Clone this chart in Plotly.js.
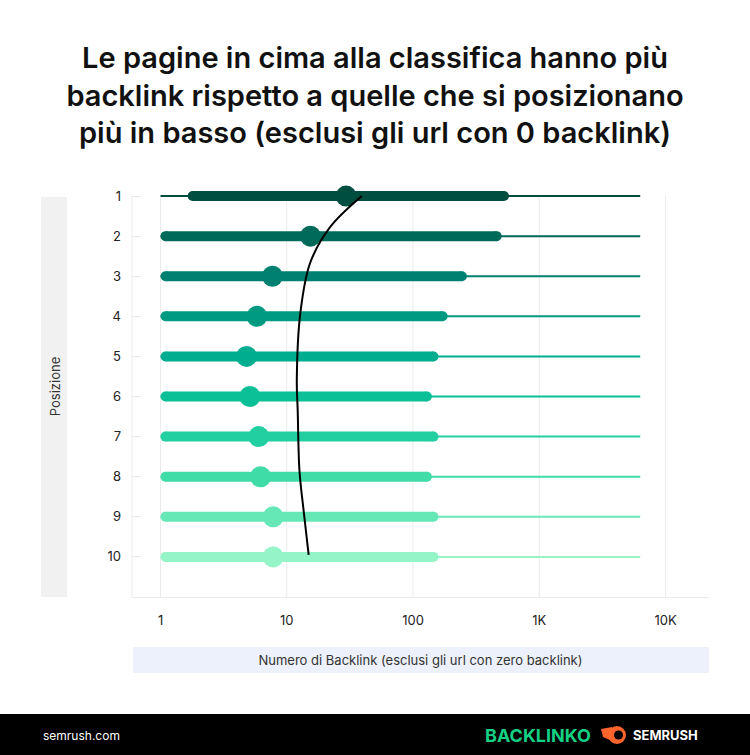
<!DOCTYPE html>
<html>
<head>
<meta charset="utf-8">
<script src="https://cdn.plot.ly/plotly-3.0.1.min.js"></script>
<style>
  html, body { margin: 0; padding: 0; background: #ffffff; }
  #chart { width: 750px; height: 755px; }
</style>
</head>
<body>
<div id="chart"></div>
<script>
// ---- Data ----
const positions = [1, 2, 3, 4, 5, 6, 7, 8, 9, 10];
const positionLabels = ["1", "2", "3", "4", "5", "6", "7", "8", "9", "10"];
const minBacklinks = [1, 1, 1, 1, 1, 1, 1, 1, 1, 1];
const maxBacklinks = [6300, 6300, 6300, 6300, 6300, 6300, 6300, 6300, 6300, 6300];
const q1Backlinks = [1.64, 1, 1, 1, 1, 1, 1, 1, 1, 1];
const q3Backlinks = [575, 503, 267, 188, 159, 141, 159, 141, 159, 159];
const medianBacklinks = [29.5, 15.4, 7.7, 5.8, 4.8, 5.1, 6.0, 6.2, 7.8, 7.8];
const trendBacklinks = [39.3, 22.1, 15.3, 12.8, 12.0, 12.2, 12.6, 13.6, 14.9];
const trendPositions = [1.0, 1.77, 2.67, 3.92, 5.6, 6.35, 7.85, 8.85, 9.95];
const xTickVals = [1, 10, 100, 1000, 10000];
const xTickText = ["1", "10", "100", "1K", "10K"];

// ---- Styles ----
const rowColors = ["#004e40", "#006a5a", "#008070", "#009a80", "#00ad8e",
                   "#0bbf96", "#22cfa0", "#40dca8", "#66e8b6", "#95f4c8"];
const FONT = "Inter, 'Noto Sans', sans-serif";
const GRID = "#ebebeb";

const W = 750, H = 755;
const M = { l: 132, r: 41, t: 176, b: 158 };
const PW = W - M.l - M.r, PH = H - M.t - M.b;
const px = v => (v - M.l) / PW;          // pixel x -> paper x
const py = v => (H - M.b - v) / PH;      // pixel y -> paper y
const yTop = positions[0], yBottom = positions[positions.length - 1] + 1;
const xRange = [-0.226, 4.344];
const BAR_W = 10;
// factor that moves a round bar cap inward by half the bar width (log axis)
const capFactor = Math.pow(10, (BAR_W / 2) * (xRange[1] - xRange[0]) / PW);

const traces = [];
positions.forEach((p, i) => {
  const c = rowColors[i];
  traces.push({
    type: "scatter", mode: "lines", x: [minBacklinks[i], maxBacklinks[i]], y: [p, p],
    line: { color: c, width: 2 }, hoverinfo: "skip", showlegend: false, cliponaxis: false
  });
  traces.push({
    type: "scatter", mode: "lines+markers",
    x: [q1Backlinks[i] * capFactor, q3Backlinks[i] / capFactor], y: [p, p],
    line: { color: c, width: BAR_W }, marker: { color: c, size: BAR_W, line: { width: 0 } },
    hoverinfo: "skip", showlegend: false, cliponaxis: false
  });
  traces.push({
    type: "scatter", mode: "markers", x: [medianBacklinks[i]], y: [p],
    marker: { color: c, size: 21, line: { width: 0 } },
    showlegend: false, cliponaxis: false
  });
});
traces.push({
  type: "scatter", mode: "lines", x: trendBacklinks, y: trendPositions,
  line: { color: "#000000", width: 2, shape: "spline", smoothing: 1.0 },
  showlegend: false, cliponaxis: false, hoverinfo: "skip"
});

const shapes = [];
// vertical grid lines spanning only the rows
xTickVals.forEach(v => shapes.push({
  type: "line", xref: "x", yref: "y", x0: v, x1: v, y0: yTop, y1: yBottom,
  line: { color: GRID, width: 1 }, layer: "below"
}));
// left axis line
shapes.push({ type: "line", xref: "paper", yref: "y", x0: 0, x1: 0, y0: yTop, y1: yBottom,
  line: { color: GRID, width: 1 }, layer: "below" });
shapes.push(
  // y-title box
  { type: "rect", xref: "paper", yref: "paper", x0: px(41), x1: px(67), y0: py(597), y1: py(197),
    fillcolor: "#f1f1f1", line: { width: 0 }, layer: "below" },
  // x-title box
  { type: "rect", xref: "paper", yref: "paper", x0: px(133), x1: px(709), y0: py(673), y1: py(647),
    fillcolor: "#edf1fb", line: { width: 0 }, layer: "below" },
  // footer
  { type: "rect", xref: "paper", yref: "paper", x0: px(0), x1: px(750), y0: py(755), y1: py(714),
    fillcolor: "#000000", line: { width: 0 }, layer: "above" },
  // semrush icon
  { type: "circle", xref: "paper", yref: "paper", x0: px(608), x1: px(626), y0: py(744), y1: py(726),
    fillcolor: "#ff642d", line: { width: 0 }, layer: "above" },
  { type: "circle", xref: "paper", yref: "paper", x0: px(614), x1: px(623), y0: py(739.5), y1: py(730.5),
    fillcolor: "#000000", line: { width: 0 }, layer: "above" },
  { type: "path", xref: "paper", yref: "paper",
    path: `M ${px(601)},${py(729)} L ${px(612)},${py(727)} L ${px(612)},${py(741)} L ${px(603)},${py(737)} Z`,
    fillcolor: "#ff642d", line: { width: 0 }, layer: "above" }
);

const annotations = [
  { text: "semrush.com", xref: "paper", yref: "paper", x: px(41), y: py(735), xanchor: "left", yanchor: "middle",
    showarrow: false, font: { family: FONT, size: 12, color: "#ffffff" } },
  { text: "<b>BACKLINKO</b>", xref: "paper", yref: "paper", x: px(483), y: py(735), xanchor: "left", yanchor: "middle",
    showarrow: false, font: { family: FONT, size: 18, color: "#13d184" } },
  { text: "<b>SEMRUSH</b>", xref: "paper", yref: "paper", x: px(631), y: py(735), xanchor: "left", yanchor: "middle",
    showarrow: false, font: { family: FONT, size: 13, color: "#ffffff" } }
];

const layout = {
  width: W, height: H,
  margin: M,
  paper_bgcolor: "#ffffff", plot_bgcolor: "#ffffff",
  font: { family: FONT, size: 13, color: "#222222" },
  title: {
    text: "Le pagine in cima alla classifica hanno più<br>backlink rispetto a quelle che si posizionano<br>più in basso (esclusi gli url con 0 backlink)",
    font: { family: FONT, size: 29, weight: 600, color: "#111111" },
    x: 0.5, xanchor: "center", y: 1 - 68 / H, yanchor: "middle"
  },
  xaxis: {
    type: "log", range: xRange,
    tickvals: xTickVals, ticktext: xTickText,
    showgrid: false,
    zeroline: false, showline: true, linecolor: GRID, linewidth: 1,
    ticks: "", ticklabelstandoff: 11,
    tickfont: { family: FONT, size: 13, color: "#222222" },
    title: { text: "Numero di Backlink (esclusi gli url con zero backlink)", standoff: 29,
             font: { family: FONT, size: 13, color: "#333333" } },
    fixedrange: true
  },
  yaxis: {
    range: [yBottom, 0.5],
    tickvals: positions, ticktext: positionLabels,
    showgrid: false, zeroline: false, showline: false,
    ticks: "inside", ticklen: 8, tickcolor: "#e6e6e6",
    ticklabelstandoff: 10,
    tickfont: { family: FONT, size: 13, color: "#222222" },
    title: { text: "Posizione", standoff: 43, font: { family: FONT, size: 13, color: "#333333" } },
    fixedrange: true
  },
  shapes: shapes,
  annotations: annotations,
  showlegend: false
};

Plotly.newPlot("chart", traces, layout, { displayModeBar: false, staticPlot: true });
</script>
</body>
</html>
